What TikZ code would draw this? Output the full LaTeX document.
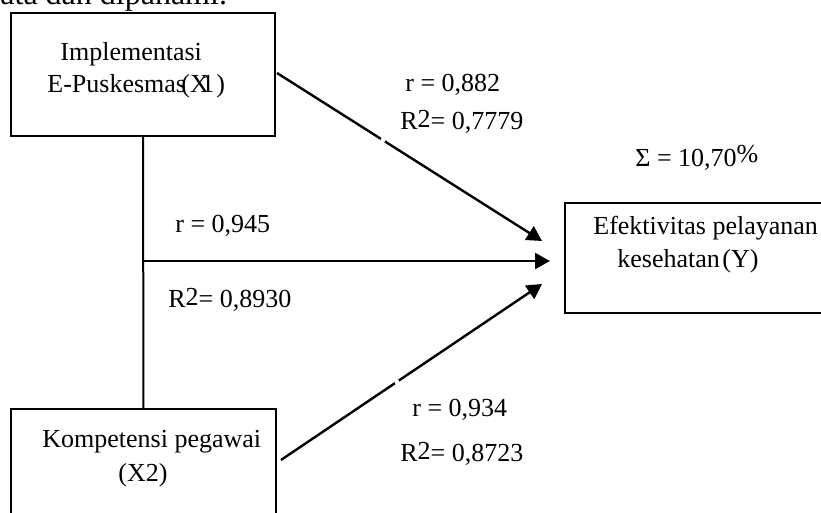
\documentclass[tikz,border=0pt]{standalone}
\usepackage{fontspec}
\setmainfont{Liberation Serif}
\usetikzlibrary{arrows.meta}
\begin{document}
\begin{tikzpicture}[x=0.5pt,y=-0.5pt,
  txt/.style={inner sep=0pt,anchor=base west,font=\fontsize{13}{15}\selectfont},
  boxnode/.style={draw,line width=0.9pt,inner sep=0pt},
  arr/.style={line width=1.2pt,-{Triangle[length=7.5pt,width=8pt]}},
  plain/.style={line width=1pt}]
\useasboundingbox (0,0) rectangle (821,513);
\clip (0,0) rectangle (821,513);
\fill[white] (0,0) rectangle (821,513);
% partial line of text at top
\node[txt,font=\fontsize{16}{18}\selectfont] (toptext) at (0,5) {ata dan dipahami.};
% boxes
\node[boxnode,minimum width=132pt,minimum height=61.5pt] (X1) at (143,74.5) {};
\node[boxnode,minimum width=132.5pt,minimum height=65.5pt] (X2) at (143.5,474.5) {};
\node[boxnode,minimum width=137.5pt,minimum height=55pt] (Y) at (702.5,258) {};
% box texts
\node[txt] (t1a) at (60,61) {Implementasi};
\node[txt] (t1b) at (47,93) {E-Puskesmas};
\node[txt] (t1c) at (181,93) {(X\kern-3.75pt1\kern1pt)};
\node[txt] (t2a) at (42,448) {Kompetensi pegawai};
\node[txt] (t2b) at (118,482) {(X2)};
\node[txt] (tya) at (593,235) {Efektivitas pelayanan};
\node[txt] (tyb) at (617,268) {kesehatan};
\node[txt] (tyc) at (722,268) {(Y)};
% sum
\node[txt] (sum) at (635,167) {Σ = 10,70\raisebox{2pt}{\%}};
% coordinates for connector ends
\coordinate (a1s) at (277,73);
\coordinate (a1e) at (542,241);
\coordinate (j) at (143.5,261);
\coordinate (a2e) at (550,261);
\coordinate (a3s) at (281,460);
\coordinate (a3e) at (542,284);
% connectors
\draw[plain] (X1.south) -- (X2.north);
\draw[arr] (a1s) -- (a1e);
\draw[arr] (j) -- (a2e);
\draw[arr] (a3s) -- (a3e);
% small breaks in the slanted arrows, as in the reference
\path (a1s) -- (a1e) coordinate[pos=0.4] (g1);
\path (a3s) -- (a3e) coordinate[pos=0.444] (g3);
\fill[white] (g1) circle (2.5);
\fill[white] (g3) circle (2.5);
% labels
\node[txt] (l1) at (405,92) {r = 0,882};
\node[txt] (l2) at (400,130) {R\raisebox{1pt}{2}= 0,7779};
\node[txt] (l3) at (175,233) {r = 0,945};
\node[txt] (l4) at (168,308) {R\raisebox{1pt}{2}= 0,8930};
\node[txt] (l5) at (412,417) {r = 0,934};
\node[txt] (l6) at (400,462) {R\raisebox{1pt}{2}= 0,8723};
\end{tikzpicture}
\end{document}
